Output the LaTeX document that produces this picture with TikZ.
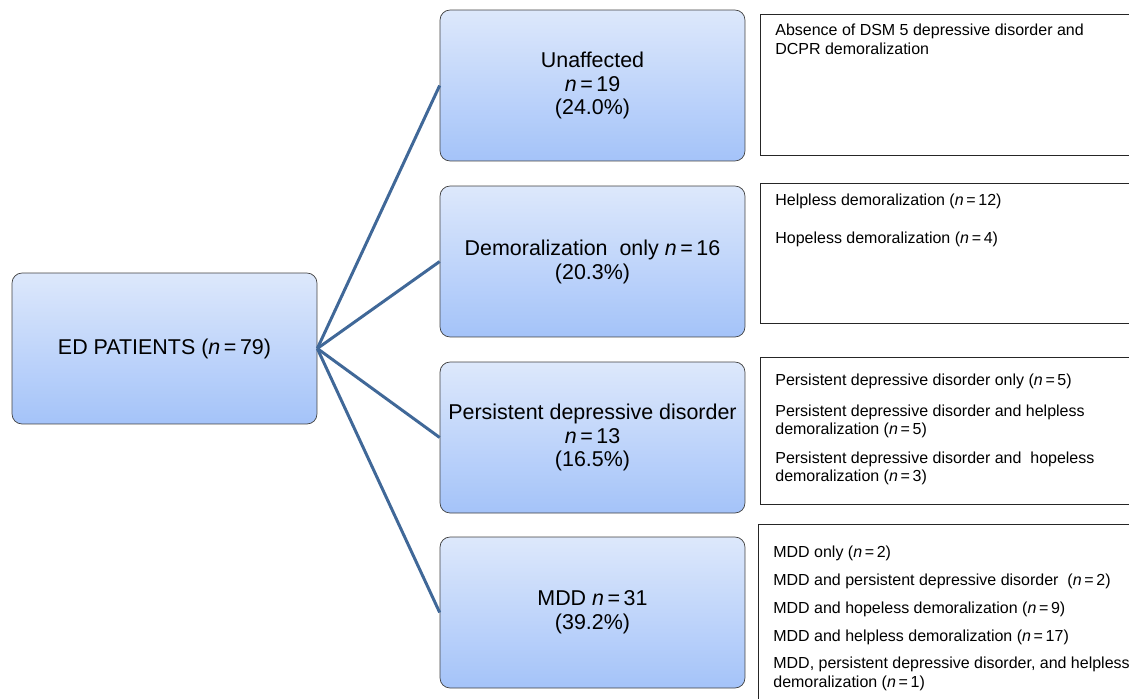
\documentclass[tikz,border=0pt]{standalone}
\usepackage{fontspec}
\setmainfont{Liberation Sans}
\usetikzlibrary{positioning}
\definecolor{linkblue}{RGB}{64,104,152}
\definecolor{boxtop}{RGB}{221,232,251}
\definecolor{boxbot}{RGB}{164,195,249}
\newcommand{\nval}[1]{\textit{n}\,=\,#1}

\begin{document}
\begin{tikzpicture}[x=0.02cm,y=-0.02cm,
  group/.style={draw=black!75, rounded corners=0.2cm, top color=boxtop, bottom color=boxbot,
    minimum width=6.1cm, minimum height=3.02cm, align=center,
    font=\fontsize{12.2}{13.6}\selectfont},
  detail/.style={draw=black!85, line width=0.8pt, anchor=north west, minimum width=8cm},
  note/.style={anchor=north west, inner sep=0pt, align=left, font=\fontsize{9.1}{10.3}\selectfont},
  link/.style={draw=linkblue, line width=1.7pt}]
\useasboundingbox (0,0) rectangle (1129,698);
\clip (0,0) rectangle (1129,698);
%% groups
\node[group] (ed) at (164.5,348.5) {ED PATIENTS (\nval{79})};
\node[group] (unaff) at (592.5,85.5) {Unaffected\\\nval{19}\\(24.0\%)};
\node[group] (demor) at (592.5,261.5) {Demoralization\ \ only \nval{16}\\(20.3\%)};
\node[group] (pdd) at (592.5,437.5) {Persistent depressive disorder\\\nval{13}\\(16.5\%)};
\node[group] (mdd) at (592.5,612.5) {MDD \nval{31}\\(39.2\%)};
\foreach \g in {unaff,demor,pdd,mdd}
  \draw[link] (ed.east) -- (\g.west);
%% details
\node[detail, minimum height=2.82cm] (unaffd) at (760,14) {};
\node[detail, minimum height=2.8cm] (demord) at (760,183) {};
\node[detail, minimum height=2.94cm] (pddd) at (760,357) {};
\node[detail, minimum height=4cm] (mddd) at (758,524) {};
\node[note] (unafft) at (775,24) {Absence of DSM 5 depressive disorder and\\DCPR demoralization};
\node[note] (demort) at (775,194) {Helpless demoralization (\nval{12})\\[11pt]
  Hopeless demoralization (\nval{4})};
\node[note] (pddt) at (775,374) {Persistent depressive disorder only (\nval{5})\\[7pt]
  Persistent depressive disorder and helpless\\demoralization (\nval{5})\\[6pt]
  Persistent depressive disorder and\ \ hopeless\\demoralization (\nval{3})};
\node[note] (mddt) at (773,546) {MDD only (\nval{2})\\[5.5pt]
  MDD and persistent depressive disorder\ \ (\nval{2})\\[5.5pt]
  MDD and hopeless demoralization (\nval{9})\\[5.5pt]
  MDD and helpless demoralization (\nval{17})\\[5.5pt]
  MDD, persistent depressive disorder, and helpless\\demoralization (\nval{1})};
\end{tikzpicture}
\end{document}
